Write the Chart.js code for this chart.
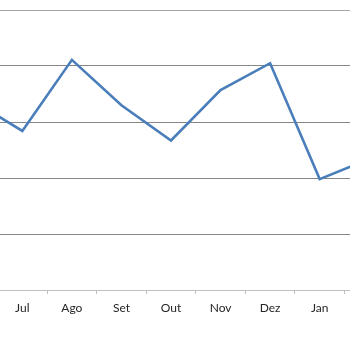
<!DOCTYPE html>
<html>
<head>
<meta charset="utf-8">
<script src="https://cdn.jsdelivr.net/npm/chart.js@4"></script>
<style>
  html, body { margin: 0; padding: 0; background: #fff; }
  #wrap { position: relative; width: 350px; height: 350px; overflow: hidden; }
  #c { position: absolute; left: -52px; top: 0; }
</style>
</head>
<body>
<div id="wrap"><canvas id="c" width="446" height="350"></canvas></div>
<script>
const categories = ['Jun', 'Jul', 'Ago', 'Set', 'Out', 'Nov', 'Dez', 'Jan', 'Fev'];
const values = [33.8, 28.4, 41.1, 33.0, 26.7, 35.7, 40.5, 19.8, 23.4];
const yMin = 0, yMax = 50, yStep = 10;

new Chart(document.getElementById('c'), {
  type: 'line',
  data: {
    labels: categories,
    datasets: [{
      data: values,
      borderColor: '#4a7ebb',
      borderWidth: 2.6,
      pointRadius: 0,
      tension: 0,
      fill: false
    }]
  },
  options: {
    responsive: false,
    animation: false,
    layout: { padding: { left: 0, right: 0, top: 10, bottom: 0 } },
    plugins: { legend: { display: false }, tooltip: { enabled: false } },
    scales: {
      x: {
        type: 'category',
        offset: true,
        afterFit: s => { s.height = 60; },
        grid: {
          offset: true,
          drawOnChartArea: false,
          drawTicks: true,
          tickLength: 4,
          color: '#bfbfbf',
          lineWidth: 1
        },
        border: { display: true, color: '#bfbfbf', width: 1 },
        ticks: {
          color: '#262626',
          font: { family: 'Lato', size: 12 },
          padding: 7,
          maxRotation: 0,
          autoSkip: false
        }
      },
      y: {
        min: yMin, max: yMax,
        afterFit: s => { s.width = 0; },
        ticks: { display: false, stepSize: yStep },
        border: { display: false },
        grid: {
          drawTicks: false,
          color: ctx => {
            if (!ctx.tick) return '#868686';
            if (ctx.tick.value === yMin) return 'rgba(0,0,0,0)';
            if (ctx.tick.value === yMax) return '#a6a6a6';
            return '#868686';
          },
          lineWidth: 1
        }
      }
    }
  }
});
</script>
</body>
</html>
